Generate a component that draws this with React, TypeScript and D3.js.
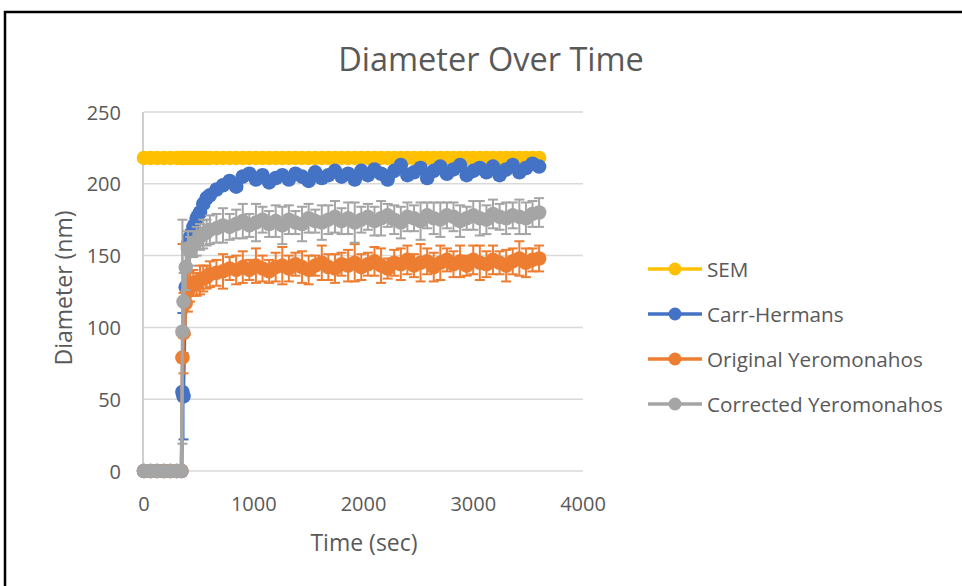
import React from "react";
import * as d3 from "d3";

const times = [0, 60, 120, 180, 240, 300, 340, 350, 360, 380, 400, 420, 450, 480, 510, 540, 570, 600,
  660, 720, 780, 840, 900, 960, 1020, 1080, 1140, 1200, 1260, 1320, 1380, 1440, 1500, 1560, 1620, 1680, 1740, 1800,
  1860, 1920, 1980, 2040, 2100, 2160, 2220, 2280, 2340, 2400, 2460, 2520, 2580, 2640, 2700, 2760, 2820, 2880, 2940,
  3000, 3060, 3120, 3180, 3240, 3300, 3360, 3420, 3480, 3540, 3600];

const semDiameter = 218;

const carrHermans = [0, 0, 0, 0, 0, 0, 0, 55, 52, 128, 158, 163, 170, 176, 180, 186, 190, 192,
  196, 199, 202, 198, 205, 207, 203, 206, 201, 204, 206, 203, 207, 205, 202, 208, 204, 206, 209, 205,
  207, 203, 209, 206, 210, 207, 203, 209, 213, 206, 208, 211, 204, 209, 212, 207, 210, 213, 206,
  209, 211, 208, 212, 206, 210, 213, 208, 211, 214, 212];
const carrHermansErr = [0, 0, 0, 0, 0, 0, 0, 55, 30, 10, 6, 5, 4, 4, 3, 3, 3, 3,
  3, 3, 3, 3, 3, 3, 3, 3, 3, 3, 3, 3, 3, 3, 3, 3, 3, 3, 3, 3,
  3, 3, 3, 3, 3, 3, 3, 3, 3, 3, 3, 3, 3, 3, 3, 3, 3, 3, 3,
  3, 3, 3, 3, 3, 3, 3, 3, 3, 3, 3];

const originalYero = [0, 0, 0, 0, 0, 0, 0, 79, 96, 117, 125, 128, 131, 130, 133, 134, 135, 137,
  138, 139, 141, 140, 142, 140, 143, 141, 139, 142, 143, 141, 144, 142, 140, 143, 145, 142, 141, 144,
  143, 145, 142, 144, 146, 143, 141, 145, 144, 147, 143, 145, 146, 142, 145, 147, 144, 146, 143,
  147, 145, 144, 147, 145, 143, 146, 148, 145, 147, 148];
const originalYeroErr = [0, 0, 0, 0, 0, 0, 0, 79, 28, 22, 14, 10, 9, 8, 10, 9, 8, 9,
  9, 12, 8, 10, 11, 7, 12, 9, 8, 10, 13, 9, 8, 11, 10, 7, 12, 9, 10, 8,
  11, 13, 9, 8, 10, 12, 7, 9, 11, 10, 8, 13, 9, 10, 12, 8, 9, 11, 7,
  10, 12, 9, 10, 8, 11, 9, 12, 10, 8, 9];

const correctedYero = [0, 0, 0, 0, 0, 0, 0, 97, 118, 142, 155, 153, 158, 160, 163, 165, 166, 168,
  169, 171, 170, 172, 174, 171, 173, 175, 172, 174, 171, 175, 173, 172, 176, 174, 173, 175, 177, 174,
  176, 173, 175, 177, 174, 176, 178, 175, 173, 177, 176, 174, 178, 176, 175, 178, 177, 174, 176,
  178, 176, 175, 179, 177, 176, 178, 177, 176, 179, 180];
const correctedYeroErr = [0, 0, 0, 0, 0, 0, 0, 78, 20, 16, 12, 10, 9, 10, 9, 10, 9, 10,
  10, 12, 9, 10, 12, 8, 13, 9, 9, 11, 13, 10, 8, 12, 10, 8, 12, 10, 11, 9,
  11, 14, 9, 9, 10, 12, 8, 10, 11, 10, 9, 13, 9, 11, 12, 9, 10, 11, 8,
  10, 12, 10, 10, 9, 11, 9, 12, 11, 9, 10];

const seriesNames = ["SEM", "Carr-Hermans", "Original Yeromonahos", "Corrected Yeromonahos"];
const seriesColors = ["#FFC000", "#4472C4", "#ED7D31", "#A5A5A5"];

const xTicks = [0, 1000, 2000, 3000, 4000];
const yTicks = [0, 50, 100, 150, 200, 250];

const FONT = "'Open Sans', sans-serif";
const TEXT = "#595959";

export default function App() {
  const x = d3.scaleLinear().domain([0, 4000]).range([144, 583]);
  const y = d3.scaleLinear().domain([0, 250]).range([471, 112]);

  const semValues = times.map(() => semDiameter);
  const series = [
    { name: seriesNames[0], color: seriesColors[0], values: semValues, err: null as number[] | null },
    { name: seriesNames[1], color: seriesColors[1], values: carrHermans, err: carrHermansErr },
    { name: seriesNames[2], color: seriesColors[2], values: originalYero, err: originalYeroErr },
    { name: seriesNames[3], color: seriesColors[3], values: correctedYero, err: correctedYeroErr },
  ];

  const line = d3
    .line<number>()
    .x((_, i) => x(times[i]))
    .y((d) => y(d));

  const r = 7.3;
  const cap = 5;

  return (
    <svg
      width={962}
      height={586}
      style={{ position: "absolute", left: 0, top: 0, background: "#fff" }}
    >
      <rect x={0} y={0} width={962} height={586} fill="#fff" />
      <rect x={5} y={12} width={1000} height={700} fill="none" stroke="#000" strokeWidth={2.5} />

      <text x={491} y={58} textAnchor="middle" dominantBaseline="central" fontFamily={FONT} fontSize={32.5} fill={TEXT}>
        Diameter Over Time
      </text>

      {yTicks.map((t) => (
        <g key={"y" + t}>
          <line x1={x(0)} x2={x(4000)} y1={y(t)} y2={y(t)} stroke="#d9d9d9" strokeWidth={1.5} />
          <text x={121} y={y(t)} textAnchor="end" dominantBaseline="central" fontFamily={FONT} fontSize={20} fill={TEXT}>
            {t}
          </text>
        </g>
      ))}
      <line x1={x(0) - 1} x2={x(0) - 1} y1={y(250)} y2={y(0)} stroke="#bfbfbf" strokeWidth={1.5} />

      {xTicks.map((t) => (
        <text key={"x" + t} x={x(t)} y={503} textAnchor="middle" dominantBaseline="central" fontFamily={FONT} fontSize={20} fill={TEXT}>
          {t}
        </text>
      ))}

      <text x={364} y={542} textAnchor="middle" dominantBaseline="central" fontFamily={FONT} fontSize={23} fill={TEXT}>
        Time (sec)
      </text>
      <text
        transform={`translate(63,288) rotate(-90)`}
        textAnchor="middle"
        dominantBaseline="central"
        fontFamily={FONT}
        fontSize={23}
        fill={TEXT}
      >
        Diameter (nm)
      </text>

      {series.map((s) => (
        <g key={s.name}>
          {s.err &&
            s.values.map((v, i) =>
              s.err![i] > 0 ? (
                <g key={i} stroke={s.color} strokeWidth={2}>
                  <line x1={x(times[i])} x2={x(times[i])} y1={y(v - s.err![i])} y2={y(v + s.err![i])} />
                  <line x1={x(times[i]) - cap} x2={x(times[i]) + cap} y1={y(v + s.err![i])} y2={y(v + s.err![i])} />
                  <line x1={x(times[i]) - cap} x2={x(times[i]) + cap} y1={y(v - s.err![i])} y2={y(v - s.err![i])} />
                </g>
              ) : null
            )}
          <path d={line(s.values) || ""} fill="none" stroke={s.color} strokeWidth={3.2} strokeLinejoin="round" />
          {s.values.map((v, i) => (
            <circle key={i} cx={x(times[i])} cy={y(v)} r={r} fill={s.color} />
          ))}
        </g>
      ))}

      {series.map((s, i) => {
        const ly = 269 + i * 45;
        return (
          <g key={"lg" + s.name}>
            <line x1={648} x2={702} y1={ly} y2={ly} stroke={s.color} strokeWidth={3.5} />
            <circle cx={675} cy={ly} r={6.5} fill={s.color} />
            <text x={707} y={ly} dominantBaseline="central" fontFamily={FONT} fontSize={20.7} fill={TEXT}>
              {s.name}
            </text>
          </g>
        );
      })}
    </svg>
  );
}
